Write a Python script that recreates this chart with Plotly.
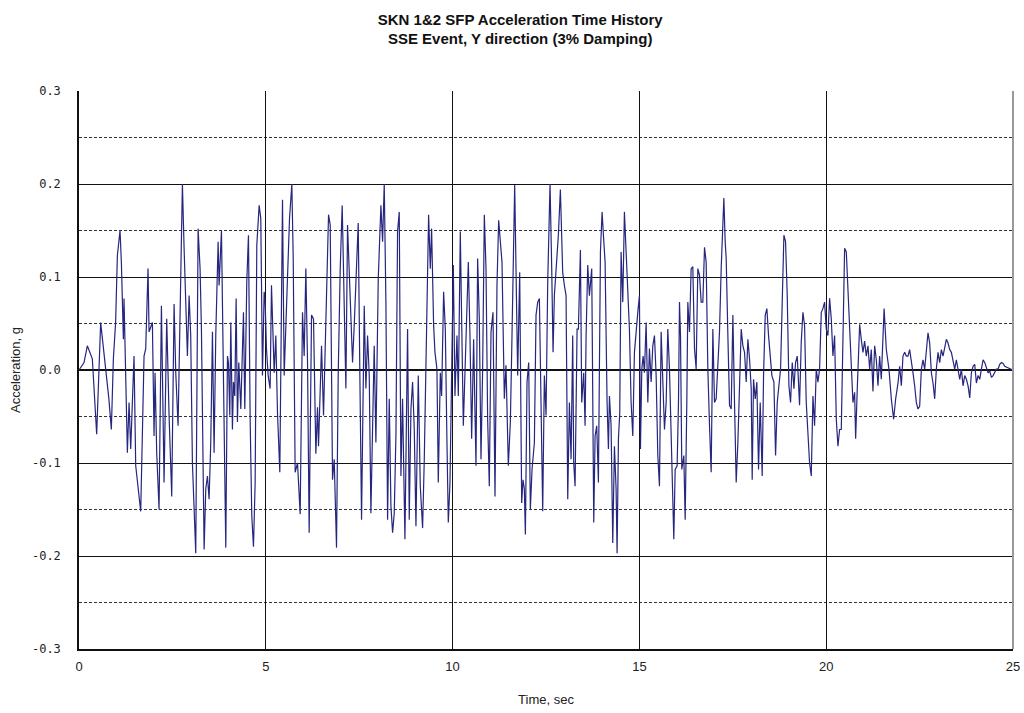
import plotly.graph_objects as go

# Time (sec) and acceleration (g)
time_s = [
    0.0, 0.134, 0.223, 0.313, 0.357, 0.446, 0.473, 0.58, 0.67, 0.76, 0.80, 0.866, 0.92, 0.98,
    1.027, 1.098, 1.134, 1.188, 1.205, 1.295, 1.34, 1.384, 1.473, 1.518, 1.652, 1.741, 1.786,
    1.848, 1.875, 1.964, 2.009, 2.036, 2.08, 2.143, 2.206, 2.277, 2.348, 2.411, 2.482, 2.545,
    2.59, 2.652, 2.768, 2.813, 2.902, 2.947, 2.99, 3.036, 3.125, 3.188,
    3.241, 3.277, 3.349, 3.393, 3.438, 3.482, 3.527, 3.572, 3.616, 3.661, 3.724, 3.75, 3.813,
    3.866, 3.929, 3.974, 4.0, 4.036, 4.063, 4.107, 4.134, 4.17, 4.206, 4.241, 4.277, 4.331,
    4.375, 4.402, 4.438, 4.491, 4.536, 4.581, 4.625, 4.67, 4.715, 4.759, 4.822, 4.866, 4.911,
    4.956, 4.983, 5.018, 5.063, 5.116, 5.152, 5.224, 5.268, 5.313, 5.375, 5.447, 5.492, 5.581,
    5.635, 5.697, 5.733, 5.786, 5.849, 5.92, 5.983, 6.027, 6.072, 6.117, 6.161, 6.224, 6.277,
    6.34, 6.384,
    6.411, 6.492, 6.545, 6.608, 6.679, 6.724, 6.786, 6.831, 6.893, 6.938, 6.992, 7.045, 7.081,
    7.117, 7.144, 7.188, 7.233, 7.277, 7.322, 7.367, 7.42, 7.474, 7.518, 7.563, 7.635, 7.679,
    7.724, 7.769, 7.813, 7.858, 7.902, 7.947, 8.01, 8.081, 8.126, 8.17, 8.215, 8.26, 8.304,
    8.349, 8.394, 8.438, 8.483, 8.527, 8.572, 8.617, 8.661, 8.724, 8.795, 8.84, 8.885, 8.929,
    8.974, 9.019, 9.081, 9.135, 9.197, 9.242, 9.313, 9.358, 9.403, 9.438, 9.492, 9.528,
    9.581, 9.617, 9.671, 9.706, 9.76, 9.805, 9.849, 9.885, 9.93, 9.974, 10.019, 10.063, 10.117,
    10.153, 10.206, 10.242, 10.287, 10.331, 10.376, 10.421, 10.465, 10.51, 10.563, 10.626,
    10.67, 10.715, 10.76, 10.804, 10.849, 10.894, 10.938, 10.983, 11.028, 11.081, 11.135,
    11.188, 11.233, 11.278, 11.322, 11.385, 11.429, 11.492, 11.546, 11.59, 11.635, 11.662,
    11.697, 11.742, 11.796, 11.849, 11.885, 11.921, 11.948, 11.992, 12.037, 12.081, 12.126,
    12.189, 12.233, 12.278, 12.323, 12.367, 12.412, 12.456, 12.501, 12.546, 12.608, 12.653,
    12.689, 12.724,
    12.831, 12.885, 12.921, 12.947, 12.992, 13.037, 13.082, 13.126, 13.171, 13.215, 13.242,
    13.278, 13.332, 13.367, 13.421, 13.456, 13.51, 13.546, 13.573, 13.617, 13.662, 13.724,
    13.778, 13.814, 13.858, 13.903, 13.957, 14.001, 14.037, 14.082, 14.135, 14.171, 14.198,
    14.242, 14.287, 14.332, 14.376, 14.403, 14.439, 14.474, 14.51, 14.555, 14.599, 14.644,
    14.689, 14.733, 14.778, 14.823, 14.867, 14.912, 14.957, 15.001, 15.028, 15.064, 15.1,
    15.135, 15.18, 15.225, 15.269, 15.314, 15.359, 15.403, 15.448, 15.493, 15.537, 15.582,
    15.627, 15.671, 15.716, 15.76, 15.805, 15.85, 15.894, 15.921, 15.957, 16.01, 16.046,
    16.073, 16.1, 16.135, 16.189, 16.225, 16.269, 16.296, 16.341, 16.385, 16.43, 16.475,
    16.519, 16.564, 16.609, 16.653, 16.698, 16.743, 16.787, 16.832, 16.877, 16.921, 16.966,
    17.01, 17.055, 17.1, 17.144, 17.189, 17.234, 17.261, 17.296, 17.323, 17.368, 17.412,
    17.457, 17.502, 17.546, 17.591, 17.636, 17.68, 17.725, 17.77, 17.814, 17.859, 17.904,
    17.948, 17.993, 18.019, 18.055, 18.1, 18.144, 18.189, 18.234, 18.287, 18.323, 18.368,
    18.412, 18.457, 18.502, 18.546, 18.6, 18.645, 18.689, 18.734, 18.779, 18.823, 18.868,
    18.912, 18.957, 19.002, 19.046, 19.091, 19.136, 19.18, 19.225, 19.287,
    19.332, 19.377, 19.421, 19.466, 19.511, 19.555, 19.6, 19.645, 19.689, 19.734, 19.779,
    19.823, 19.868, 19.912, 19.957, 20.002, 20.046, 20.091, 20.136, 20.18, 20.225, 20.27,
    20.314, 20.359, 20.404, 20.448, 20.493, 20.538, 20.582, 20.627, 20.671, 20.716, 20.761,
    20.788, 20.832,
    20.895, 20.939, 20.984, 21.029, 21.073, 21.118, 21.163, 21.207, 21.252, 21.297, 21.341,
    21.386, 21.43, 21.475, 21.52, 21.55, 21.609, 21.68, 21.743, 21.805, 21.859, 21.922,
    21.966, 22.011, 22.055, 22.1, 22.145, 22.189, 22.234, 22.279, 22.323, 22.368, 22.413,
    22.457, 22.502, 22.547, 22.591, 22.636, 22.681, 22.725, 22.77, 22.815, 22.859, 22.904,
    22.948, 22.993, 23.038, 23.082, 23.127, 23.172, 23.216, 23.261, 23.306, 23.35, 23.395,
    23.44, 23.484, 23.529, 23.574, 23.618, 23.663, 23.708, 23.752, 23.797, 23.842, 23.886,
    23.931, 23.976, 24.02, 24.065, 24.11, 24.154, 24.199, 24.243, 24.288, 24.333, 24.377,
    24.422, 24.467, 24.511, 24.556, 24.601, 24.645, 24.69, 24.735, 24.779, 24.824, 24.913,
    24.994,
]

accel_g = [
    0.0, 0.008, 0.026, 0.015, 0.012, -0.05, -0.069, 0.051, 0.015, -0.013, -0.031, -0.064, 0.012, 0.051,
    0.123, 0.15, 0.116, 0.033, 0.077, -0.089, -0.035, -0.085, 0.015, -0.103, -0.152, 0.015, 0.023,
    0.109, 0.041, 0.051, -0.071, -0.003, -0.089, -0.15, 0.069, -0.121, 0.055, -0.049, -0.136, 0.071,
    -0.003, -0.06, 0.2, 0.131, 0.015, 0.08, 0.037, -0.1, -0.197, 0.152,
    0.109, 0.044, -0.193, -0.128, -0.114, -0.139, -0.078, 0.041, -0.089, 0.037, 0.138, 0.091, 0.15,
    -0.006, -0.191, 0.015, 0.008, -0.049, 0.051, -0.064, -0.013, -0.028, 0.077, -0.056, 0.008, -0.042,
    0.044, 0.062, -0.042, 0.095, 0.145, -0.053, -0.157, -0.19, -0.121, 0.134, 0.177, 0.163, -0.006,
    0.084, 0.073, 0.023, -0.006, -0.02, 0.091, -0.003, 0.037, -0.046, -0.11, 0.183, -0.006, 0.113,
    0.163, 0.2, 0.123, -0.11, -0.1, -0.155, 0.062, 0.015, 0.109, 0.008, -0.175, 0.059, 0.055,
    -0.09, -0.04,
    -0.082, 0.026, -0.049, 0.048, 0.167, 0.156, -0.118, -0.096, -0.191, -0.006, 0.109, 0.177, 0.109,
    0.015, -0.02, 0.156, 0.098, 0.066, 0.008, 0.048, 0.109, 0.158, -0.006, -0.161, 0.069, -0.02,
    0.037, -0.006, -0.154, -0.074, 0.026, -0.078, 0.098, 0.177, 0.138, 0.2, 0.073, -0.161, -0.031,
    -0.146, -0.175, -0.154, -0.071, 0.149, 0.17, -0.114, -0.031, -0.182, 0.044, -0.161, -0.042, -0.013,
    -0.064, -0.168, -0.006, -0.125, -0.17, -0.096, 0.051, 0.167, 0.109, 0.152, 0.048, 0.019,
    0.001, -0.121, -0.003, -0.028, 0.084, 0.044, -0.078, -0.164, -0.121, -0.006, 0.113, -0.028, 0.037,
    -0.028, 0.149, 0.055, -0.06, -0.003, 0.073, 0.116, 0.037, -0.074, 0.033, -0.103,
    0.12, 0.055, -0.096, 0.001, 0.167, 0.109, -0.053, -0.125, 0.041, 0.062, -0.136,
    0.091, 0.161, 0.138, 0.116, -0.031, 0.005, -0.103, -0.056, 0.037, 0.149, 0.199,
    0.109, -0.006, 0.105, -0.143, -0.118, -0.128, -0.177, -0.013, 0.008, -0.15, -0.107,
    -0.078, 0.059, 0.073, 0.077, -0.031, -0.152, -0.006, -0.049, 0.095, 0.2, 0.109,
    0.019, 0.08,
    0.145, 0.194, 0.127, 0.105, 0.091, 0.08, -0.139, -0.035, -0.096, 0.037, -0.1,
    -0.125, 0.044, 0.044, 0.129, -0.035, -0.003, -0.06, 0.037, 0.113, 0.08, 0.109,
    -0.164, -0.071, -0.06, -0.121, 0.127, 0.17, 0.145, 0.116, -0.035, -0.085, -0.028,
    -0.06, -0.186, -0.082, -0.128, -0.197, -0.074, -0.046, 0.127, 0.073, 0.17, 0.127,
    0.08, 0.044, -0.035, -0.071, 0.019, 0.044, 0.062, 0.08, -0.085, 0.001, 0.015,
    -0.003, 0.051, -0.035, 0.023, -0.013, 0.026, 0.037, -0.006, -0.092, -0.125, 0.041,
    -0.017, -0.064, -0.035, 0.044, 0.001, -0.078, -0.139, -0.182, -0.107, -0.103, -0.035,
    0.073, 0.037, -0.107, -0.092, -0.161, -0.035, 0.073, 0.041, 0.109, 0.111, 0.023,
    0.001, 0.109, 0.102, 0.073, 0.073, 0.132, 0.116, 0.001, -0.06, -0.11, 0.044,
    -0.035, -0.031, 0.012, 0.041, 0.109, 0.163, 0.185, 0.138, 0.12, 0.037, -0.038,
    -0.042, 0.059, -0.035, -0.121, -0.078, -0.006, 0.044, 0.026, 0.019, -0.013, 0.033,
    0.012, -0.02, -0.118, -0.01, -0.031, -0.013, -0.107, -0.035, -0.114, -0.006, 0.059,
    0.066, 0.037, 0.012, -0.006, -0.013, -0.092, -0.035, -0.013, 0.001, 0.073, 0.145,
    0.138, 0.08, -0.017, -0.035, 0.008, -0.02, 0.008, 0.015, -0.038,
    0.03, 0.062, 0.048, -0.035, -0.064, -0.1, -0.114, -0.028, -0.06, 0.001, -0.013,
    0.001, 0.062, 0.066, 0.073, 0.044, 0.037, 0.077, 0.055, 0.015, 0.037, -0.053,
    -0.082, -0.064, -0.064, 0.037, 0.131, 0.127, 0.084, 0.055, -0.006, -0.035, -0.024,
    -0.074, -0.02,
    0.049, 0.033, 0.019, 0.031, 0.015, 0.026, 0.001, 0.022, -0.023, 0.026, 0.011,
    -0.017, 0.015, -0.01, 0.033, 0.066, 0.022, 0.001, -0.031, -0.053, -0.031, -0.014,
    0.004, -0.017, 0.015, 0.019, 0.015, 0.015, 0.022, 0.011, -0.003, -0.017, -0.035,
    -0.042, -0.039, 0.001, 0.011, 0.001, 0.026, 0.04, 0.029, -0.003, -0.014, -0.031,
    0.001, 0.019, 0.008, 0.022, 0.015, 0.026, 0.033, 0.029, 0.022, 0.019, 0.008,
    0.001, 0.011, 0.001, -0.01, 0.001, -0.017, -0.006, -0.01, -0.017, -0.03, -0.003,
    0.004, 0.006, -0.014, -0.006, -0.01, 0.001, 0.011, 0.008, 0.001, -0.003, -0.001,
    -0.008, -0.006, -0.003, 0.001, 0.001, 0.006, 0.008, 0.007, 0.004, 0.003, 0.001,
    0.0,
]

y_tick_vals = [0.3, 0.2, 0.1, 0.0, -0.1, -0.2, -0.3]
y_tick_text = ["0.3", "0.2", "0.1", "0.0", "-0.1", "-0.2", "-0.3"]
x_tick_vals = [0, 5, 10, 15, 20, 25]

title_text = "<b>SKN 1&2 SFP Acceleration Time History<br>SSE Event, Y direction (3% Damping)</b>"

fig = go.Figure()
fig.add_trace(go.Scatter(
    x=time_s, y=accel_g, mode="lines",
    line=dict(color="#26267F", width=1.2),
    showlegend=False, hoverinfo="x+y",
))

sans = "Liberation Sans, Arial, sans-serif"

fig.update_layout(
    width=1024, height=713,
    margin=dict(l=79, r=11, t=91, b=64, autoexpand=False),
    paper_bgcolor="white", plot_bgcolor="white",
    title=dict(text=title_text, x=0.508, xanchor="center", xref="container",
               y=0.965, yanchor="middle", yref="container",
               font=dict(family=sans, size=15, color="#111")),
    font=dict(family=sans, color="#222"),
)

fig.update_xaxes(
    range=[0, 25], tickvals=x_tick_vals, ticks="", showgrid=True,
    gridcolor="#111", gridwidth=1, showline=True, linecolor="#111", linewidth=1.5,
    zeroline=False, tickfont=dict(family=sans, size=13, color="#222"),
    ticklabelstandoff=5,
    title=dict(text="Time, sec", font=dict(family=sans, size=13, color="#222"), standoff=22),
)

fig.update_yaxes(
    range=[-0.3, 0.3], tickvals=y_tick_vals, ticktext=y_tick_text, ticks="",
    showgrid=True, gridcolor="#111", gridwidth=1,
    minor=dict(dtick=0.05, showgrid=True, gridcolor="#333", griddash="3px,2px", gridwidth=1),
    showline=True, linecolor="#111", linewidth=1.5,
    zeroline=True, zerolinecolor="#111", zerolinewidth=1.5,
    tickfont=dict(family="DejaVu Sans Mono, monospace", size=12, color="#222"),
    ticklabelstandoff=14,
    title=dict(text="Acceleration, g", font=dict(family=sans, size=13, color="#222"), standoff=8),
)

fig.add_shape(type="line", xref="paper", yref="paper", x0=1, x1=1, y0=0, y1=1,
              line=dict(color="#999", width=2))

fig.write_html("out.html", config={"displayModeBar": False},
               post_script="document.body.style.margin='0';")
